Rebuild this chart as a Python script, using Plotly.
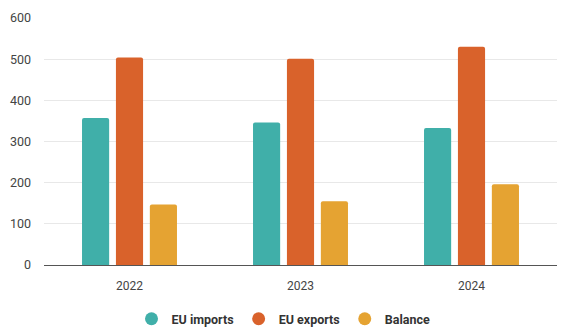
import plotly.graph_objects as go

years = ["2022", "2023", "2024"]
eu_imports = [357, 346, 333]
eu_exports = [504, 501, 530]
balance = [147, 155, 196]
series_names = ["EU imports", "EU exports", "Balance"]
colors = ["#40AFA9", "#D9622B", "#E5A332"]

fig = go.Figure()
for name, vals, col in zip(series_names, [eu_imports, eu_exports, balance], colors):
    fig.add_trace(go.Bar(x=years, y=vals, name=name, marker=dict(color=col, line=dict(width=0)),
                         showlegend=False))
for name, col in zip(series_names, colors):
    fig.add_trace(go.Scatter(x=[None], y=[None], mode="markers", name=name,
                             marker=dict(symbol="circle", size=13, color=col)))

fig.update_layout(
    width=567, height=330,
    margin=dict(l=43, r=10, t=12, b=65),
    paper_bgcolor="white", plot_bgcolor="white",
    barmode="group", bargap=0.405, bargroupgap=0.2, barcornerradius=2,
    font=dict(family="Roboto, Arial, sans-serif", size=12, color="#444"),
    legend=dict(orientation="h", x=0.5, xanchor="center", y=0.033, yanchor="middle",
                xref="container", yref="container",
                font=dict(size=12.5, color="#333", weight="bold"), itemwidth=30,
                tracegroupgap=0),
)
fig.update_xaxes(type="category", showgrid=False, showline=True, linecolor="#555", linewidth=1,
                 ticks="", ticklabelstandoff=10, tickfont=dict(size=12, color="#444"))
fig.update_yaxes(range=[0, 600], dtick=100, showgrid=True, gridcolor="#E8E8E8", gridwidth=1,
                 zeroline=False, showline=False, ticks="", ticklabelstandoff=12,
                 tickfont=dict(size=12.5, color="#444"))

fig.write_html("out.html")
